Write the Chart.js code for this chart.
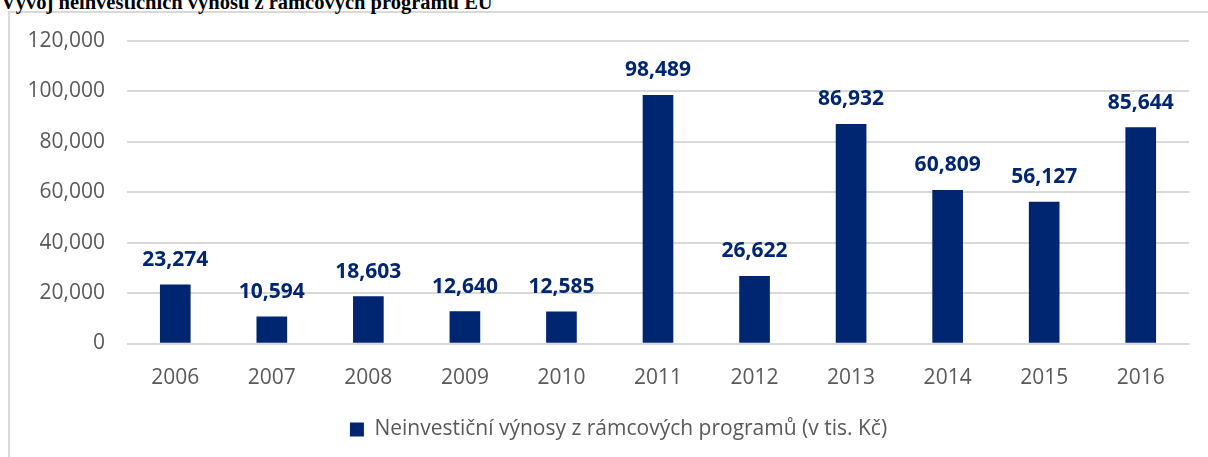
<!DOCTYPE html>
<html>
<head>
<meta charset="utf-8">
<script src="https://cdn.jsdelivr.net/npm/chart.js@4/dist/chart.umd.min.js"></script>
<style>
  html, body { margin: 0; padding: 0; background: #fff; overflow: hidden; }
  #wrap { position: relative; width: 1208px; height: 457px; }
  #frame {
    position: absolute; left: 8px; top: 11px; right: -10px; bottom: -10px;
    border-left: 2px solid #d9d9d9; border-top: 2px solid #d9d9d9;
  }
  #title {
    position: absolute; left: 1px; top: -8px;
    font: bold 20.5px "Liberation Serif", "Times New Roman", serif;
    line-height: 20px; white-space: nowrap; color: #000;
  }
  canvas { position: absolute; left: 0; top: 0; }
</style>
</head>
<body>
<div id="wrap">
  <div id="frame"></div>
  <div id="title">Vývoj neinvestičních výnosů z rámcových programů EU</div>
  <canvas id="chart" width="1208" height="457"></canvas>
</div>
<script>
const years = ["2006", "2007", "2008", "2009", "2010", "2011", "2012", "2013", "2014", "2015", "2016"];
const revenues = [23274, 10594, 18603, 12640, 12585, 98489, 26622, 86932, 60809, 56127, 85644];
const seriesName = "Neinvestiční výnosy z rámcových programů (v tis. Kč)";
const yTicks = [0, 20000, 40000, 60000, 80000, 100000, 120000];

const navy = "#002672";
const grey = "#595959";
const font = "'Open Sans', sans-serif";

// value labels above each bar
const barLabels = {
  id: "barLabels",
  afterDatasetsDraw(chart) {
    const ctx = chart.ctx;
    const meta = chart.getDatasetMeta(0);
    ctx.save();
    ctx.font = "bold 21px " + font;
    ctx.fillStyle = navy;
    ctx.textAlign = "center";
    ctx.textBaseline = "middle";
    meta.data.forEach((bar, i) => {
      ctx.fillText(revenues[i].toLocaleString("en-US"), bar.x, bar.y - 25);
    });
    ctx.restore();
  },
};

// legend sits a bit right of the canvas centre in the original
const legendShift = {
  id: "legendShift",
  afterLayout(chart) {
    chart.legend.left += 24;
    chart.legend.right += 24;
  },
};

new Chart(document.getElementById("chart"), {
  type: "bar",
  data: {
    labels: years,
    datasets: [
      {
        label: seriesName,
        data: revenues,
        backgroundColor: navy,
        barThickness: 30,
      },
    ],
  },
  options: {
    responsive: false,
    animation: false,
    devicePixelRatio: 1,
    layout: { padding: { top: 41, right: 19, left: 0, bottom: 7 } },
    plugins: {
      title: { display: false },
      tooltip: { enabled: false },
      legend: {
        position: "bottom",
        labels: {
          color: grey,
          font: { family: font, size: 21 },
          boxWidth: 14,
          boxHeight: 14,
          padding: 12,
        },
      },
    },
    scales: {
      x: {
        grid: { display: false, drawTicks: false },
        border: { display: false },
        ticks: { color: grey, font: { family: font, size: 21 }, padding: 21.5 },
        afterFit(scale) {
          scale.height = 63.5;
        },
      },
      y: {
        min: 0,
        max: 120000,
        afterBuildTicks(scale) {
          scale.ticks = yTicks.map((v) => ({ value: v }));
        },
        grid: { color: "#d9d9d9", lineWidth: 2, drawTicks: false },
        border: { display: false },
        ticks: {
          color: grey,
          font: { family: font, size: 21 },
          padding: 22,
          callback: (v) => v.toLocaleString("en-US"),
        },
        afterFit(scale) {
          scale.width = 127;
        },
      },
    },
  },
  plugins: [barLabels, legendShift],
});
</script>
</body>
</html>
